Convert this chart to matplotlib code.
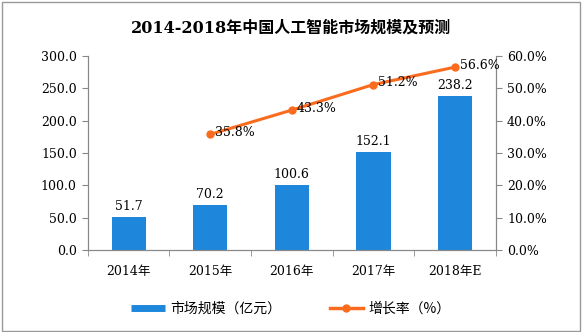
import numpy as np
import matplotlib.pyplot as plt
from matplotlib.patches import Rectangle
from matplotlib.lines import Line2D

years = ['2014年', '2015年', '2016年', '2017年', '2018年E']
market = [51.7, 70.2, 100.6, 152.1, 238.2]
growth = [None, 35.8, 43.3, 51.2, 56.6]

fam = ['DejaVu Serif', 'Noto Sans CJK SC']
blue = '#1E87DB'
orange = '#FA6B1E'
grey = '#888888'

fig = plt.figure(figsize=(5.82, 3.32), dpi=100)
fig.patches.append(Rectangle((0.003, 0.004), 0.994, 0.99, transform=fig.transFigure,
                             fill=False, edgecolor='#999999', linewidth=1))

ax = fig.add_axes([0.151, 0.247, 0.701, 0.584])
x = np.arange(len(years))
ax.bar(x, market, width=0.42, color=blue, zorder=2)
for xi, v in zip(x, market):
    ax.text(xi, v + 6, f'{v:.1f}', ha='center', va='bottom', fontsize=9, family=fam)

ax.set_xlim(-0.5, len(years) - 0.5)
ax.set_ylim(0, 300)
ax.set_yticks(np.arange(0, 301, 50))
ax.set_yticklabels([f'{v:.1f}' for v in np.arange(0, 301, 50)], family=fam, fontsize=9)
ax.set_xticks(x)
ax.set_xticklabels(years, family=fam, fontsize=9)
ax.set_xticks(np.arange(-0.5, len(years)), minor=True)
ax.tick_params(axis='x', which='major', length=0, pad=11)
ax.tick_params(axis='x', which='minor', length=4, color=grey)
ax.tick_params(axis='y', length=4, color=grey, pad=4)
ax.spines['top'].set_visible(False)
for s in ['left', 'bottom', 'right']:
    ax.spines[s].set_color(grey)

ax2 = ax.twinx()
gx = [xi for xi, g in zip(x, growth) if g is not None]
gy = [g for g in growth if g is not None]
ax2.plot(gx, gy, color=orange, linewidth=2.2, marker='o', markersize=5)
for xi, g in zip(gx, gy):
    ax2.text(xi + 0.06, g + 0.5, f'{g:.1f}%', ha='left', va='center', fontsize=9, family=fam)
ax2.set_ylim(0, 60)
ax2.set_yticks(np.arange(0, 61, 10))
ax2.set_yticklabels([f'{v:.1f}%' for v in np.arange(0, 61, 10)], family=fam, fontsize=9)
ax2.tick_params(axis='y', length=4, color=grey, pad=4)
ax2.spines['top'].set_visible(False)
for s in ['left', 'bottom', 'right']:
    ax2.spines[s].set_color(grey)

fig.text(0.5, 0.915, '2014-2018年中国人工智能市场规模及预测', ha='center', va='center',
         fontsize=11.5, fontweight='bold', family=fam)

handles = [Line2D([], [], color=blue, linewidth=5, solid_capstyle='butt'),
           Line2D([], [], color=orange, linewidth=2.5, marker='o', markersize=5)]
labels = ['市场规模（亿元）', '增长率（%）']
fig.legend(handles, labels, loc='center', bbox_to_anchor=(0.5, 0.07), ncol=2,
           frameon=False, prop={'family': 'Noto Sans CJK SC', 'size': 10},
           handlelength=2.4, handletextpad=0.4, columnspacing=3.5)

plt.savefig('out.png', dpi=100)
